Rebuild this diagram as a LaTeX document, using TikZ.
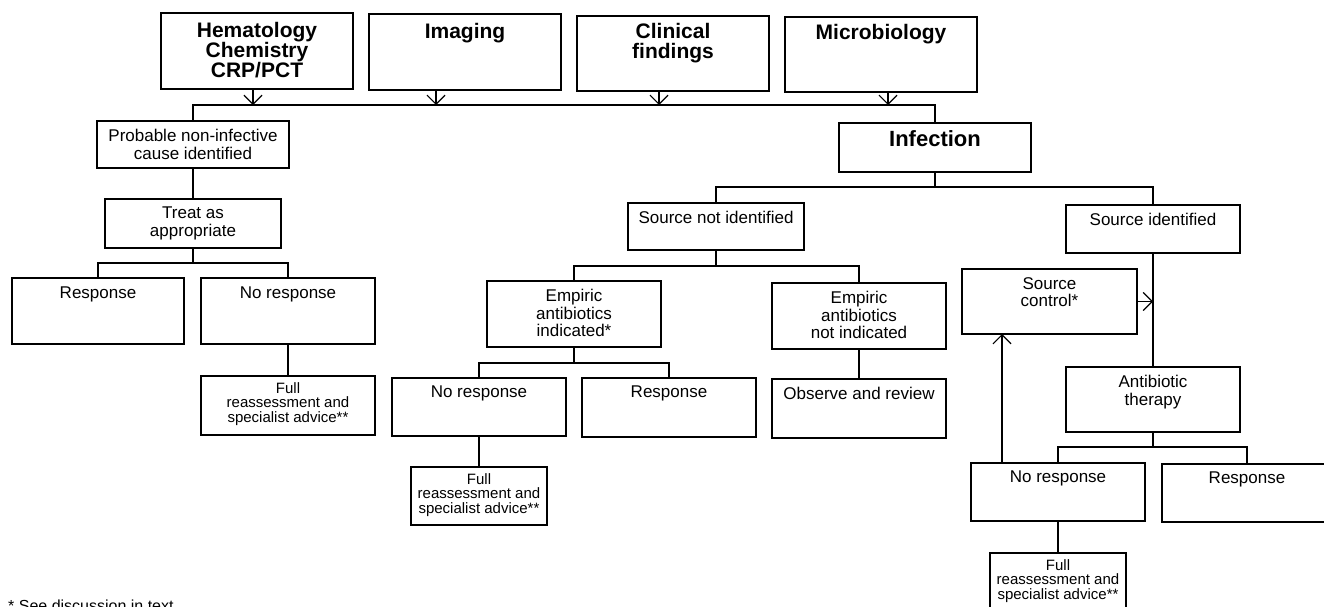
\documentclass[tikz,border=0pt]{standalone}
\usepackage{fontspec}
\setmainfont{Liberation Sans}
\usetikzlibrary{arrows.meta}
\begin{document}
\begin{tikzpicture}[x=1pt,y=-1pt,
  box/.style={draw, line width=1.6pt, inner sep=0pt, outer sep=0pt, anchor=north west},
  bt/.style={font=\fontsize{21}{20}\selectfont\bfseries, align=center, inner sep=0pt, anchor=north},
  nt/.style={font=\fontsize{17}{17.5}\selectfont, align=center, inner sep=0pt, anchor=north},
  st/.style={font=\fontsize{15}{14.8}\selectfont, align=center, inner sep=0pt, anchor=north},
  conn/.style={line width=1.5pt},
  arr/.style={line width=1.4pt, -{Straight Barb[length=9pt,width=18pt,line width=1.2pt]}}]
\useasboundingbox (0,0) rectangle (1324,606);
\fill[white] (0,0) rectangle (1324,606);
\clip (0,0) rectangle (1324,606);

% boxes
\node[box, minimum width=192pt, minimum height=76pt] (hem) at (161,13) {};
\node[box, minimum width=192pt, minimum height=76pt] (img) at (369,14) {};
\node[box, minimum width=192pt, minimum height=75pt] (cli) at (577,16) {};
\node[box, minimum width=192pt, minimum height=75pt] (mic) at (785,17) {};
\node[box, minimum width=192pt, minimum height=47pt] (prob) at (97,121) {};
\node[box, minimum width=192pt, minimum height=49pt] (inf) at (839,123) {};
\node[box, minimum width=176pt, minimum height=49pt] (treat) at (105,199) {};
\node[box, minimum width=172pt, minimum height=66pt] (resL) at (12,278) {};
\node[box, minimum width=174pt, minimum height=66pt] (nrL) at (201,278) {};
\node[box, minimum width=174pt, minimum height=59pt] (fullL) at (201,376) {};
\node[box, minimum width=176pt, minimum height=47pt] (sni) at (628,203) {};
\node[box, minimum width=174pt, minimum height=66pt] (eai) at (487,281) {};
\node[box, minimum width=174pt, minimum height=66pt] (ean) at (772,283) {};
\node[box, minimum width=174pt, minimum height=58pt] (nrM) at (392,378) {};
\node[box, minimum width=174pt, minimum height=59pt] (resM) at (582,378) {};
\node[box, minimum width=174pt, minimum height=59pt] (obs) at (772,379) {};
\node[box, minimum width=136pt, minimum height=58pt] (fullM) at (411,467) {};
\node[box, minimum width=174pt, minimum height=48pt] (si) at (1066,205) {};
\node[box, minimum width=175pt, minimum height=65pt] (sc) at (962,269) {};
\node[box, minimum width=174pt, minimum height=65pt] (ab) at (1066,367) {};
\node[box, minimum width=174pt, minimum height=58pt] (nrR) at (971,463) {};
\node[box, minimum width=170pt, minimum height=58pt] (resR) at (1162,464) {};
\node[box, minimum width=136pt, minimum height=60pt] (fullR) at (990,553) {};

% texts
\node[bt] (hem-t) at ([yshift=-9pt]hem.north) {Hematology\\Chemistry\\CRP/PCT};
\node[bt] (img-t) at ([yshift=-9pt]img.north) {Imaging};
\node[bt] (cli-t) at ([yshift=-7pt]cli.north) {Clinical\\findings};
\node[bt] (mic-t) at ([yshift=-7pt]mic.north) {Microbiology};
\node[bt, font=\fontsize{22}{22}\selectfont\bfseries] (inf-t) at ([yshift=-7pt]inf.north) {Infection};
\node[nt] (prob-t) at ([yshift=-8pt]prob.north) {Probable non-infective\\cause identified};
\node[nt] (treat-t) at ([yshift=-8pt]treat.north) {Treat as\\appropriate};
\node[nt] (resL-t) at ([yshift=-9pt]resL.north) {Response};
\node[nt] (nrL-t) at ([yshift=-9pt]nrL.north) {No response};
\node[st] (fullL-t) at ([yshift=-6pt]fullL.north) {Full\\reassessment and\\specialist advice**};
\node[nt] (sni-t) at ([yshift=-8pt]sni.north) {Source not identified};
\node[nt] (eai-t) at ([yshift=-8pt]eai.north) {Empiric\\antibiotics\\indicated*};
\node[nt] (ean-t) at ([yshift=-8pt]ean.north) {Empiric\\antibiotics\\not indicated};
\node[nt] (nrM-t) at ([yshift=-8pt]nrM.north) {No response};
\node[nt] (resM-t) at ([yshift=-8pt]resM.north) {Response};
\node[nt] (obs-t) at ([yshift=-8pt]obs.north) {Observe and review};
\node[st] (fullM-t) at ([yshift=-6pt]fullM.north) {Full\\reassessment and\\specialist advice**};
\node[nt] (si-t) at ([yshift=-8pt]si.north) {Source identified};
\node[nt] (sc-t) at ([yshift=-8pt]sc.north) {Source\\control*};
\node[nt] (ab-t) at ([yshift=-8pt]ab.north) {Antibiotic\\therapy};
\node[nt] (nrR-t) at ([yshift=-8pt]nrR.north) {No response};
\node[nt] (resR-t) at ([yshift=-8pt]resR.north) {Response};
\node[st] (fullR-t) at ([yshift=-6pt]fullR.north) {Full\\reassessment and\\specialist advice**};

% footnote (cut off at bottom edge, as in the reference)
\node[anchor=north west, inner sep=0pt, font=\fontsize{16}{18}\selectfont] (fn) at (8,600) {* See discussion in text};

% junction coordinates
\coordinate (b0) at (193,105);
\coordinate (b1) at (193,263);
\coordinate (b2) at (935,187);
\coordinate (b3) at (716,266);
\coordinate (b4) at (574,363);
\coordinate (b5) at (1153,447);

% top arrows to bus
\draw[arr] ([xshift=-4pt]hem.south) -- ([xshift=-4pt]hem.south |- b0);
\draw[arr] ([xshift=-29pt]img.south) -- ([xshift=-29pt]img.south |- b0);
\draw[arr] ([xshift=-14pt]cli.south) -- ([xshift=-14pt]cli.south |- b0);
\draw[arr] ([xshift=7pt]mic.south) -- ([xshift=7pt]mic.south |- b0);
\draw[conn] (prob.north) -- (prob.north |- b0) -| (inf.north);

% left branch
\draw[conn] (prob.south) -- (prob.south |- treat.north);
\draw[conn] (treat.south) -- (b1);
\draw[conn] (resL.north) |- (b1) -| (nrL.north);
\draw[conn] (nrL.south) -- (fullL.north);

% infection branches
\draw[conn] (inf.south) -- (b2);
\draw[conn] (sni.north) |- (b2) -| (si.north);
\draw[conn] (sni.south) -- (b3);
\draw[conn] (eai.north) |- (b3) -| (ean.north);
\draw[conn] (eai.south) -- (b4);
\draw[conn] (nrM.north) |- (b4) -| (resM.north);
\draw[conn] (ean.south) -- (obs.north);
\draw[conn] (nrM.south) -- (fullM.north);

% source identified branch
\draw[conn] (si.south) -- (ab.north);
\draw[arr] (sc.east) -- (sc.east -| si.south);
\draw[conn] (ab.south) -- (b5);
\draw[conn] (nrR.north) |- (b5) -| (resR.north);
\draw[arr] ([xshift=-56pt]nrR.north) -- ([xshift=-56pt]nrR.north |- sc.south);
\draw[conn] (nrR.south) -- (fullR.north);
\end{tikzpicture}
\end{document}
